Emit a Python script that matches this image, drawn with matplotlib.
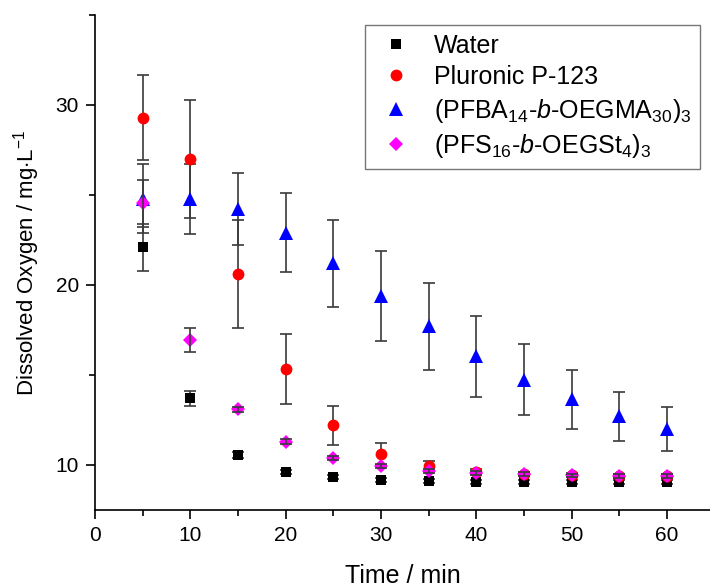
import matplotlib
matplotlib.use("Agg")
import matplotlib.pyplot as plt
import matplotlib.ticker as ticker

plt.rcParams['font.family'] = ['Liberation Sans', 'DejaVu Sans']
plt.rcParams['mathtext.fontset'] = 'custom'
plt.rcParams['mathtext.rm'] = 'Liberation Sans'
plt.rcParams['mathtext.it'] = 'Liberation Sans:italic'

time = [5, 10, 15, 20, 25, 30, 35, 40, 45, 50, 55, 60]

water = [22.1, 13.7, 10.55, 9.6, 9.33, 9.17, 9.1, 9.07, 9.07, 9.05, 9.05, 9.05]
water_err = [1.3, 0.4, 0.15, 0.1, 0.1, 0.1, 0.1, 0.1, 0.1, 0.1, 0.1, 0.1]

pluronic = [29.3, 27.0, 20.6, 15.35, 12.2, 10.6, 9.95, 9.63, 9.5, 9.45, 9.4, 9.4]
pluronic_err = [2.35, 3.3, 3.0, 1.95, 1.1, 0.6, 0.3, 0.15, 0.1, 0.1, 0.1, 0.1]

pfba = [24.8, 24.8, 24.2, 22.9, 21.2, 19.4, 17.7, 16.05, 14.75, 13.65, 12.7, 12.0]
pfba_err = [1.9, 1.95, 2.0, 2.2, 2.4, 2.5, 2.4, 2.25, 1.95, 1.65, 1.35, 1.2]

pfs = [24.55, 16.95, 13.1, 11.3, 10.4, 9.95, 9.67, 9.55, 9.5, 9.42, 9.4, 9.4]
pfs_err = [1.3, 0.65, 0.15, 0.12, 0.1, 0.1, 0.1, 0.1, 0.1, 0.1, 0.1, 0.1]

series = [
    (water, water_err, 's', 'black', 6.5, 'Water'),
    (pluronic, pluronic_err, 'o', 'red', 8.5, 'Pluronic P-123'),
    (pfba, pfba_err, '^', 'blue', 9.5, r'(PFBA$_{14}$-$\it{b}$-OEGMA$_{30}$)$_3$'),
    (pfs, pfs_err, 'D', 'magenta', 7.5, r'(PFS$_{16}$-$\it{b}$-OEGSt$_{4}$)$_3$'),
]

fig = plt.figure(figsize=(7.1, 5.87), dpi=100)
ax = fig.add_axes([95 / 710, 77 / 587, 615 / 710, 495 / 587])

for i, (y, err, m, c, ms, lab) in enumerate(series):
    ez = 4.5 if m == 'D' else 2
    ax.errorbar(time, y, yerr=err, fmt='none', ecolor='#3a3a3a',
                elinewidth=1.2, capsize=4.5, capthick=1.2, zorder=ez)
    ax.plot(time, y, linestyle='none', marker=m, color=c, markersize=ms,
            markeredgewidth=0, label=lab, zorder=3 + i * 0.1)

ax.set_xlim(0, 64.5)
ax.set_ylim(7.5, 35)
ax.xaxis.set_major_locator(ticker.MultipleLocator(10))
ax.xaxis.set_minor_locator(ticker.MultipleLocator(5))
ax.yaxis.set_major_locator(ticker.MultipleLocator(10))
ax.yaxis.set_minor_locator(ticker.MultipleLocator(5))

ax.spines['top'].set_visible(False)
ax.spines['right'].set_visible(False)
ax.spines['left'].set_linewidth(1.2)
ax.spines['bottom'].set_linewidth(1.2)
ax.tick_params(which='major', direction='out', length=6.5, width=1.2,
               labelsize=15, pad=5)
ax.tick_params(which='minor', direction='out', length=4.5, width=1.2)

ax.set_xlabel('Time / min', fontsize=18, labelpad=14)
ax.set_ylabel(r'Dissolved Oxygen / mg$\cdot$L$^{-1}$', fontsize=16, labelpad=10)

leg = ax.legend(loc='upper right', bbox_to_anchor=(0.984, 0.98),
                borderaxespad=0, fontsize=18, frameon=True, fancybox=False,
                edgecolor='#555555', handletextpad=0.6, labelspacing=0.3,
                borderpad=0.35, handlelength=1.8)
leg.get_frame().set_linewidth(1.0)

fig.savefig('out.png', dpi=100)
